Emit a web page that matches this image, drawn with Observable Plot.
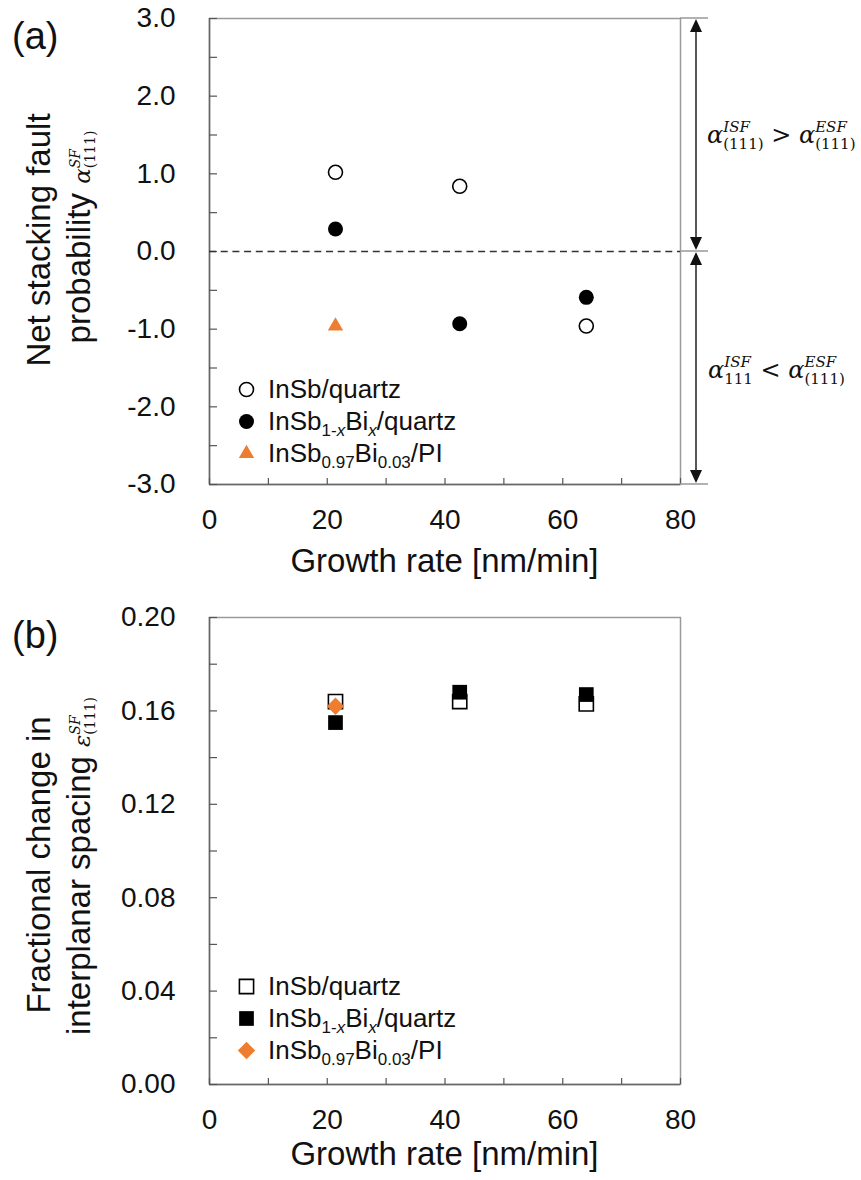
<!DOCTYPE html>
<html><head><meta charset="utf-8">
<script src="https://cdn.jsdelivr.net/npm/d3@7"></script>
<script src="https://cdn.jsdelivr.net/npm/@observablehq/plot@0.6"></script>
<style>
body{margin:0;background:#fff;}
#fig{width:861px;height:1180px;overflow:hidden;}
#fig svg{display:block;}
</style></head><body><div id="fig"></div>
<script>
// ---------------- data ----------------
const growthRate = [21.4, 42.5, 64.0];        // nm/min, quartz samples
const growthRatePI = [21.4];                  // nm/min, PI sample
// (a) net stacking fault probability
const alphaInSb = [1.02, 0.84, -0.96];
const alphaInSbBi = [0.29, -0.93, -0.59];
const alphaPI = [-0.96];
// (b) fractional change in interplanar spacing
const epsInSb = [0.164, 0.164, 0.163];
const epsInSbBi = [0.155, 0.168, 0.167];
const epsPI = [0.162];
// ticks
const xTickLabels = [0, 20, 40, 60, 80];
const xTicksAll = [0, 10, 20, 30, 40, 50, 60, 70, 80];
const yTickLabelsA = [-3, -2, -1, 0, 1, 2, 3];
const yTicksAllA = [-3, -2.5, -2, -1.5, -1, -0.5, 0, 0.5, 1, 1.5, 2, 2.5, 3];
const yTickLabelsB = [0, 0.04, 0.08, 0.12, 0.16, 0.20];
const yTicksAllB = [0, 0.02, 0.04, 0.06, 0.08, 0.10, 0.12, 0.14, 0.16, 0.18, 0.20];
const seriesNames = ["InSb/quartz", "InSb1-xBix/quartz", "InSb0.97Bi0.03/PI"];

// ---------------- helpers ----------------
const SANS = "'Liberation Sans', Arial, sans-serif";
const SERIF = "'DejaVu Serif', serif";
const ORANGE = "#ED7D31";
const INK = "#111";
const rows = (xs, ys) => xs.map((x, i) => ({x, y: ys[i]}));

function rich(svg, parts, x, y, {anchor = "start", rotate = 0} = {}) {
  const g = svg.append("g").attr("transform", `translate(${x},${y})` + (rotate ? ` rotate(${rotate})` : ""));
  const text = g.append("text").attr("text-anchor", anchor).attr("fill", INK).style("white-space", "pre");
  let cur = 0, pend = 0;
  const add = (str, f, s, it, dy) => {
    const ts = text.append("tspan").text(str)
      .attr("font-family", f).attr("font-size", s)
      .attr("font-style", it ? "italic" : "normal")
      .attr("dy", dy - cur);
    if (pend) ts.attr("dx", pend);
    pend = 0; cur = dy;
    return ts;
  };
  for (const p of parts) {
    const f = p.f || SANS, s = p.s || 26;
    if (p.sup != null) {
      const a = add(p.sup, f, s, p.supI, p.supDy);
      const wa = a.node().getComputedTextLength();
      const b = add(p.sub, f, s, p.subI, p.subDy);
      b.attr("dx", -wa);
      const wb = b.node().getComputedTextLength();
      pend = Math.max(0, wa - wb);
    } else add(p.t, f, s, p.i, p.dy || 0);
  }
  return g;
}

const legendParts = [
  [{t: "InSb/quartz"}],
  [{t: "InSb"}, {t: "1-", s: 17, dy: 6}, {t: "x", s: 17, i: true, dy: 6}, {t: "Bi"}, {t: "x", s: 17, i: true, dy: 6}, {t: "/quartz"}],
  [{t: "InSb"}, {t: "0.97", s: 17, dy: 6}, {t: "Bi"}, {t: "0.03", s: 17, dy: 6}, {t: "/PI"}]
];

function panel(cfg) {
  const legendMarks = cfg.legend.map((st, i) =>
    Plot.dot([seriesNames[i]], {x: null, y: null, frameAnchor: "bottom-left", dx: 37, dy: cfg.legendDy[i], ...st}));
  const plot = Plot.plot({
    width: 861, height: 590,
    marginTop: cfg.mt, marginBottom: cfg.mb, marginLeft: 209, marginRight: 181,
    x: {domain: [0, 80], label: null},
    y: {domain: cfg.yDomain, label: null},
    style: {fontFamily: SANS, background: "white", color: INK, overflow: "visible"},
    marks: [
      Plot.frame({stroke: "#9a9a9a", strokeWidth: 1.5}),
      Plot.ruleX([0], {stroke: "#666", strokeWidth: 1.5}),
      Plot.ruleY([cfg.yDomain[0]], {stroke: "#666", strokeWidth: 1.5}),
      Plot.axisY(cfg.yTicksAll, {tickSize: -8, tickFormat: () => "", stroke: "#555", strokeWidth: 1.2, label: null}),
      Plot.axisY(cfg.yTickLabels, {tickSize: 0, tickPadding: 34, tickFormat: cfg.yFmt, fontSize: 28, fill: INK, label: null}),
      Plot.axisX(xTicksAll, {tickSize: -6, tickFormat: () => "", stroke: "#555", strokeWidth: 1.2, label: null}),
      Plot.axisX(xTickLabels, {tickSize: 0, tickPadding: 25, fontSize: 28, fill: INK, label: null}),
      ...(cfg.extra || []),
      ...cfg.series,
      ...legendMarks
    ]
  });
  document.getElementById("fig").appendChild(plot);
  const svg = d3.select(plot.tagName.toLowerCase() === "svg" ? plot : plot.querySelector("svg"));
  return {plot, svg};
}

// ---------------- panel (a) ----------------
const openA = {r: 7, fill: "white", stroke: "black", strokeWidth: 1.6};
const fillA = {r: 7.5, fill: "black"};
const triA = {symbol: "triangle", r: 5.7, fill: ORANGE};
const legendDyA = [-95, -63, -31];
const A = panel({
  mt: 18, mb: 106, yDomain: [-3, 3],
  yTicksAll: yTicksAllA, yTickLabels: yTickLabelsA, yFmt: d => d.toFixed(1),
  extra: [Plot.ruleY([0], {stroke: "#333", strokeWidth: 1.5, strokeDasharray: "7,4.7"})],
  series: [
    Plot.dot(rows(growthRate, alphaInSb), {x: "x", y: "y", ...openA}),
    Plot.dot(rows(growthRate, alphaInSbBi), {x: "x", y: "y", ...fillA}),
    Plot.dot(rows(growthRatePI, alphaPI), {x: "x", y: "y", ...triA})
  ],
  legend: [openA, fillA, triA],
  legendDy: legendDyA
});

// ---------------- panel (b) ----------------
const openB = {symbol: "square", r: 8, fill: "white", stroke: "black", strokeWidth: 1.6};
const fillB = {symbol: "square", r: 8.3, fill: "black"};
const diaB = {symbol: "diamond2", r: 7.8, fill: ORANGE};
const legendDyB = [-98, -66, -34];
const B = panel({
  mt: 27, mb: 96, yDomain: [0, 0.2],
  yTicksAll: yTicksAllB, yTickLabels: yTickLabelsB, yFmt: d => d.toFixed(2),
  series: [
    Plot.dot(rows(growthRate, epsInSb), {x: "x", y: "y", ...openB}),
    Plot.dot(rows(growthRate, epsInSbBi), {x: "x", y: "y", ...fillB}),
    Plot.dot(rows(growthRatePI, epsPI), {x: "x", y: "y", ...diaB})
  ],
  legend: [openB, fillB, diaB],
  legendDy: legendDyB
});

// ---------------- text & annotations ----------------
function decorate(P, o) {
  const {plot, svg} = P;
  const sx = plot.scale("x"), sy = plot.scale("y");
  const x0 = sx.apply(0), x1 = sx.apply(80);
  const yb = sy.apply(o.yDomain[0]), yt = sy.apply(o.yDomain[1]);
  // panel letter
  svg.append("text").attr("x", 12).attr("y", yt + 31).attr("text-anchor", "start").attr("font-family", SANS)
    .attr("font-size", 38).attr("fill", INK).text(o.letter);
  // x title
  svg.append("text").attr("x", (x0 + x1) / 2).attr("y", yb + o.xTitleDy).attr("text-anchor", "middle")
    .attr("font-family", SANS).attr("font-size", 33).attr("fill", INK).text("Growth rate [nm/min]");
  // y title (two lines, rotated)
  rich(svg, [{t: o.yLine1, s: 33}], 50, o.yCenter1, {anchor: "middle", rotate: -90});
  rich(svg, [{t: o.yLine2 + " ", s: 33},
             {t: o.sym, f: SERIF, s: 23, i: true},
             {sup: "SF", sub: "(111)", f: SERIF, s: 14, supI: true, subI: false, supDy: -10, subDy: 5}],
       90, o.yCenter2, {anchor: "middle", rotate: -90});
  // legend labels
  legendParts.forEach((parts, i) => rich(svg, parts, x0 + 59, yb + o.legendDy[i] + 9));
}

decorate(A, {letter: "(a)", yDomain: [-3, 3], xTitleDy: 88, yLine1: "Net stacking fault", yLine2: "probability",
  sym: "α", yCenter1: 240, yCenter2: 237, legendDy: legendDyA});
decorate(B, {letter: "(b)", yDomain: [0, 0.2], xTitleDy: 81, yLine1: "Fractional change in", yLine2: "interplanar spacing",
  sym: "ε", yCenter1: 865 - 590, yCenter2: 866 - 590, legendDy: legendDyB});

// right-hand annotation of panel (a)
(function () {
  const {plot, svg} = A;
  const sx = plot.scale("x"), sy = plot.scale("y");
  const xr = sx.apply(80);
  const g = svg.append("g");
  for (const v of [3, 0, -3]) {
    g.append("line").attr("x1", xr).attr("x2", xr + 28).attr("y1", sy.apply(v)).attr("y2", sy.apply(v))
      .attr("stroke", "#999").attr("stroke-width", 1.5);
  }
  const ax = xr + 16, hl = 13, hw = 6;
  function head(yTip, dir) { // dir -1 up, +1 down
    g.append("path").attr("d", `M${ax},${yTip} L${ax - hw},${yTip - dir * hl} L${ax + hw},${yTip - dir * hl} Z`).attr("fill", "#111");
  }
  function dbl(vTop, vBot) {
    const yA = sy.apply(vTop) + 1, yB = sy.apply(vBot) - 1;
    g.append("line").attr("x1", ax).attr("x2", ax).attr("y1", yA + 6).attr("y2", yB - 6).attr("stroke", "#111").attr("stroke-width", 1.4);
    head(yA, -1); head(yB, 1);
  }
  dbl(3, 0); dbl(0, -3);
  const big = 24, sm = 15;
  const a = (sup, sub) => [{t: "α", f: SERIF, s: big, i: true},
    {sup, sub, f: SERIF, s: sm, supI: true, subI: false, supDy: -11, subDy: 6}];
  rich(svg, [...a("ISF", "(111)"), {t: " > ", f: SERIF, s: big}, ...a("ESF", "(111)")], 707, sy.apply(1.5) + 8);
  rich(svg, [...a("ISF", "111"), {t: " < ", f: SERIF, s: big}, ...a("ESF", "(111)")], 708, sy.apply(-1.5) + 10);
})();
</script>
</body></html>
